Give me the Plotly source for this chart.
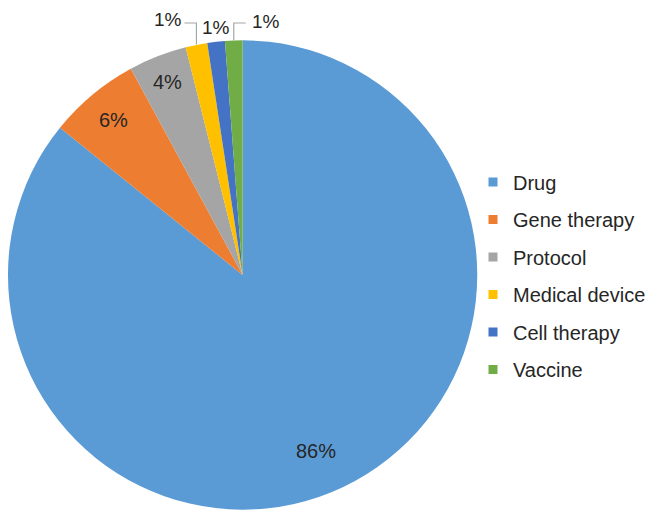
import math
import plotly.graph_objects as go

categories = ["Drug", "Gene therapy", "Protocol", "Medical device", "Cell therapy", "Vaccine"]
shares = [85.8, 6.3, 4.0, 1.49, 1.21, 1.2]
colors = ["#5B9BD5", "#ED7D31", "#A5A5A5", "#FFC000", "#4472C4", "#70AD47"]

W, H = 651, 510
FONT = "Liberation Sans, Arial, sans-serif"
TEXT = "#262626"
LEADER = "#A6A6A6"

# pie placement in pixels
CX, CY, R = 243, 275, 235

# label style per slice:
#   ("in", radius fraction, angle nudge in degrees)
#   ("out", side of the leader, label height in px)
label_style = [
    ("in", 0.81, 3.0),
    ("in", 0.86, 0.0),
    ("in", 0.88, 0.0),
    ("out", "left", 19.5),
    ("out", "none", 27.0),
    ("out", "right", 21.5),
]

fig = go.Figure()
fig.add_trace(go.Pie(
    labels=categories,
    values=shares,
    sort=False,
    direction="clockwise",
    rotation=0,
    marker=dict(colors=colors, line=dict(width=0)),
    textinfo="none",
    hoverinfo="label+percent",
    showlegend=False,
    domain=dict(x=[(CX - R) / W, (CX + R) / W], y=[1 - (CY + R) / H, 1 - (CY - R) / H]),
))


def px(x, y):
    return x / W, 1 - y / H


total = sum(shares)
start = 0.0
shapes, annotations = [], []
ELBOW_Y = 23
for v, style in zip(shares, label_style):
    frac = v / total
    mid = (start + frac / 2) * 2 * math.pi  # clockwise from 12 o'clock
    start += frac
    text = f"{round(frac * 100):.0f}%"
    kind = style[0]
    if kind == "in":
        rf, nudge = style[1], math.radians(style[2])
        x = CX + R * rf * math.sin(mid + nudge)
        y = CY - R * rf * math.cos(mid + nudge)
        ax, ay = px(x, y)
        annotations.append(dict(x=ax, y=ay, xref="paper", yref="paper", text=text,
                                xanchor="center", yanchor="middle", showarrow=False,
                                font=dict(family=FONT, size=20, color=TEXT)))
    else:
        side, ly = style[1], style[2]
        ex = CX + R * math.sin(mid)
        ey = CY - R * math.cos(mid)
        if side == "none":
            lx, anchor = ex, "center"
        else:
            dx = -12 if side == "left" else 12
            x0, y0 = px(ex, ey)
            x1, y1 = px(ex, ELBOW_Y)
            x2, y2 = px(ex + dx, ELBOW_Y)
            shapes.append(dict(type="path", xref="paper", yref="paper",
                               path=f"M {x0},{y0} L {x1},{y1} L {x2},{y2}",
                               line=dict(color=LEADER, width=1.2)))
            lx = ex + dx + (0 if side == "left" else 4)
            anchor = "right" if side == "left" else "left"
        ax, ay = px(lx, ly)
        annotations.append(dict(x=ax, y=ay, xref="paper", yref="paper", text=text,
                                xanchor=anchor, yanchor="middle", showarrow=False,
                                font=dict(family=FONT, size=19, color=TEXT)))

# legend entries, one group per category so they can be spaced apart
for name, col in zip(categories, colors):
    fig.add_trace(go.Scatter(
        x=[None], y=[None], mode="markers", name=name, legendgroup=name,
        marker=dict(symbol="square", size=9, color=col),
        showlegend=True, hoverinfo="skip",
    ))

fig.update_layout(
    width=W, height=H,
    margin=dict(l=0, r=0, t=0, b=0),
    paper_bgcolor="white", plot_bgcolor="white",
    font=dict(family=FONT, color=TEXT),
    xaxis=dict(visible=False), yaxis=dict(visible=False),
    shapes=shapes,
    annotations=annotations,
    legend=dict(
        x=474 / W, xanchor="left", y=1 - 276 / H, yanchor="middle",
        font=dict(family=FONT, size=20, color=TEXT),
        tracegroupgap=8.5, bgcolor="rgba(0,0,0,0)",
    ),
)

fig.write_html("out.html")
